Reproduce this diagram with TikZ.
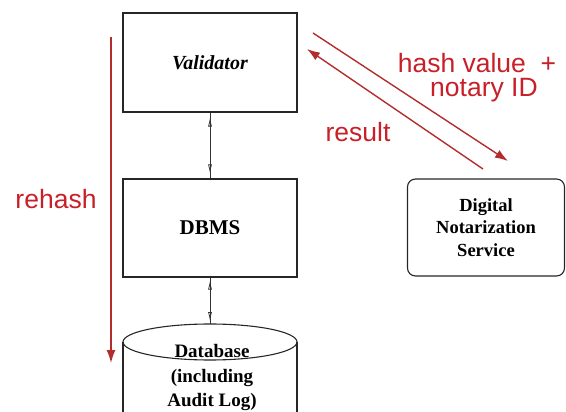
\documentclass[tikz,border=0pt]{standalone}
\usepackage{fontspec}
\setmainfont{Liberation Serif}
\newfontfamily\arialfont{Liberation Sans}
\usetikzlibrary{arrows.meta}
\definecolor{redtext}{RGB}{200,32,40}
\definecolor{redline}{RGB}{180,45,45}
\tikzset{
  box/.style={draw=black!85, line width=1.1pt, minimum width=174pt, inner sep=0pt},
  rbox/.style={draw=black!85, line width=1.1pt, rounded corners=8pt, minimum width=157pt, minimum height=97pt, inner sep=0pt},
  serifbold/.style={font=\fontsize{20}{24}\selectfont\bfseries, align=center},
  redlabel/.style={text=redtext, font=\arialfont\fontsize{26.5}{30}\selectfont, inner sep=0pt},
  redarrow/.style={draw=redline, line width=1.4pt, -{Latex[length=13pt,width=9pt]}},
  dblarrow/.style={draw=black!80, line width=0.8pt, {Latex[open,length=9pt,width=4pt]}-{Latex[open,length=9pt,width=4pt]}}
}
\begin{document}
\begin{tikzpicture}[x=1pt,y=-1pt]
\useasboundingbox (0,0) rectangle (566,412);
% boxes
\node[box, minimum height=99pt, serifbold, font=\fontsize{20}{24}\selectfont\bfseries\itshape] (val) at (210,62.5) {Validator};
\node[box, minimum height=98pt, serifbold, font=\fontsize{21}{24}\selectfont\bfseries] (dbms) at (210,228) {DBMS};
\node[rbox, serifbold, font=\fontsize{18.5}{22.5}\selectfont\bfseries] (dns) at (486,227.5) {Digital\\Notarization\\Service};
% database cylinder
\draw[draw=black!85, line width=1.1pt] (123,342) -- (123,430);
\draw[draw=black!85, line width=1.1pt] (297,342) -- (297,430);
\draw[draw=black!85, line width=1.1pt] (210,342) ellipse [x radius=87, y radius=18];
\node[minimum width=174pt, minimum height=100pt, inner sep=0pt, serifbold, font=\fontsize{19}{24.5}\selectfont\bfseries] (db) at (210,374) {};
\coordinate (dbtop) at (210,324);
\node[serifbold, font=\fontsize{19}{24.5}\selectfont\bfseries] (dbtext) at (212,378) {Database\\(including\\Audit Log)};
% black double arrows
\draw[draw=black!80, line width=0.8pt] (val.south) -- (dbms.north);
\draw[dblarrow, shorten <=5pt, shorten >=5pt] (val.south) -- (dbms.north);
\draw[draw=black!80, line width=0.8pt] (dbms.south) -- (dbtop);
\draw[dblarrow, shorten <=3pt, shorten >=3pt] (dbms.south) -- (dbtop);
% rehash
\coordinate (rhs) at (111,37);
\coordinate (rhe) at (111,363);
\draw[redarrow] (rhs) -- (rhe);
\node[redlabel] (rehash) at (56,199) {rehash};
% diagonal arrows
\coordinate (hs) at (313,33);
\coordinate (he) at (508,161);
\coordinate (rs) at (483,169);
\coordinate (re) at (307,49);
\draw[redarrow] (hs) -- (he);
\draw[redarrow] (rs) -- (re);
\node[redlabel] (hash) at (477,63) {hash value \ +};
\node[redlabel] (notary) at (484,90) {notary ID};
\node[redlabel] (result) at (358,132) {result};
\end{tikzpicture}
\end{document}
